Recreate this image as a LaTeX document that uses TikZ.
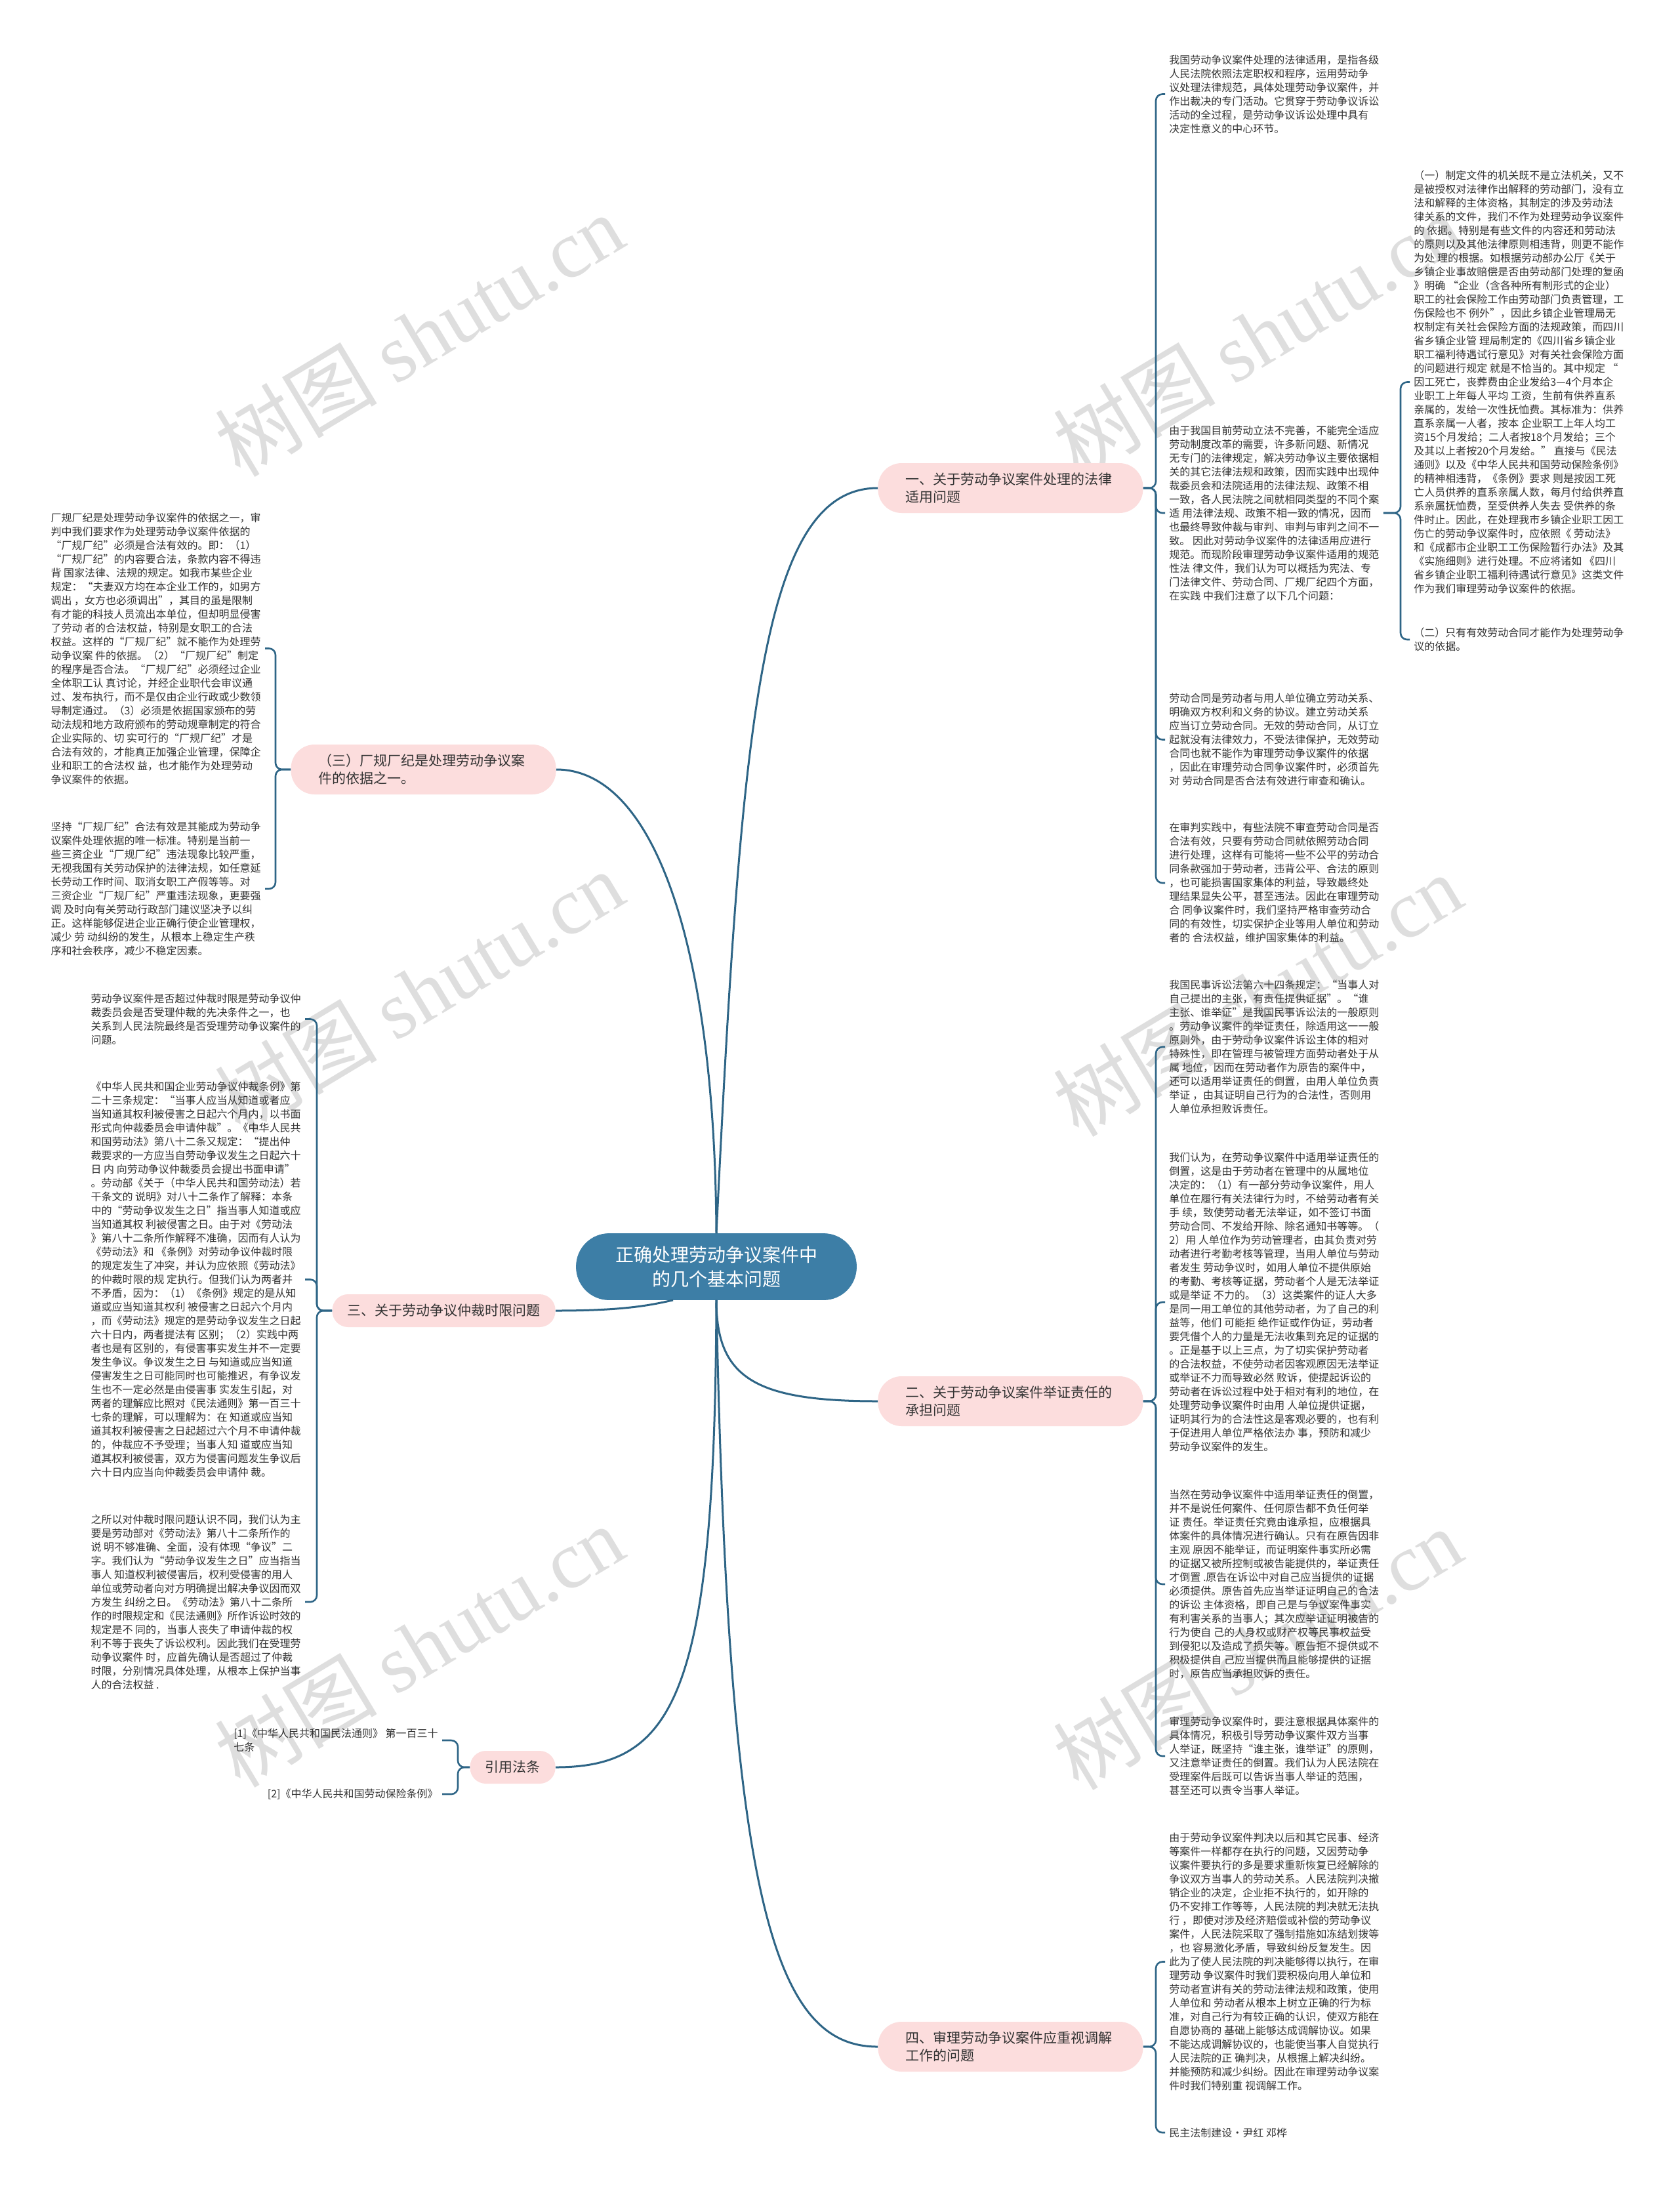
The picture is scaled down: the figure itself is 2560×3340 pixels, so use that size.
\documentclass[tikz,border=0pt]{standalone}
\usepackage{fontspec}
\setmainfont{Noto Sans CJK SC}
\newfontfamily\wmserif{Liberation Serif}
\usetikzlibrary{calc}
\definecolor{lc}{HTML}{2E6586}
\definecolor{rootc}{HTML}{3D7EA6}
\definecolor{pinkc}{HTML}{FCDDDD}
\definecolor{txt}{HTML}{333333}
\definecolor{wm}{HTML}{DEDEDE}
\tikzset{
  rootnode/.style={fill=rootc, draw=rootc, text=white, rounded corners=25pt, minimum width=213.5pt, minimum height=50.5pt, align=center, font=\fontsize{14}{18.5}\selectfont, inner sep=0pt},
  brtwo/.style={fill=pinkc, draw=none, text=txt, rounded corners=18pt, text width=160pt, inner xsep=21pt, inner ysep=0pt, minimum height=38pt, align=left, font=\fontsize{10.5}{13.5}\selectfont},
  brone/.style={fill=pinkc, draw=none, text=txt, rounded corners=12pt, inner xsep=11.5pt, inner ysep=0pt, minimum height=25pt, align=center, font=\fontsize{10.5}{13.5}\selectfont},
  leaf/.style={text=txt, align=left, inner xsep=3pt, inner ysep=0pt, font=\fontsize{8}{10.5}\selectfont},
  conn/.style={draw=lc, line width=1.5pt},
  brk/.style={draw=lc, line width=1.3pt, rounded corners=5pt},
  wmark/.style={text=wm, rotate=31, font=\fontsize{62}{62}\selectfont, inner sep=0pt}
}
\begin{document}
\begin{tikzpicture}[x=0.5pt,y=-0.5pt]
\useasboundingbox[fill=white] (0,0) rectangle (2560,3340);

% watermarks
\node[wmark] (w1) at (639,511) {树图 {\wmserif shutu.cn}};
\node[wmark] (w2) at (1917,511) {树图 {\wmserif shutu.cn}};
\node[wmark] (w3) at (639,1512) {树图 {\wmserif shutu.cn}};
\node[wmark] (w4) at (1917,1517) {树图 {\wmserif shutu.cn}};
\node[wmark] (w5) at (639,2509) {树图 {\wmserif shutu.cn}};
\node[wmark] (w6) at (1917,2513) {树图 {\wmserif shutu.cn}};

% root
\node[rootnode] (root) at (1092,1931) {正确处理劳动争议案件中\\的几个基本问题};

% main branches
\node[brtwo, anchor=west] (b1) at (1338,744) {一、关于劳动争议案件处理的法律\\适用问题};
\node[brtwo, anchor=west] (b2) at (1338,2136) {二、关于劳动争议案件举证责任的\\承担问题};
\node[brtwo, anchor=west] (b4) at (1338,3120) {四、审理劳动争议案件应重视调解\\工作的问题};
\node[brtwo, anchor=east] (b3) at (848,1173) {（三）厂规厂纪是处理劳动争议案\\件的依据之一。};
\node[brone, anchor=east] (bt) at (847,1998) {三、关于劳动争议仲裁时限问题};
\node[brone, anchor=east] (bref) at (847,2694) {引用法条};

% right leaves of branch 1
\node[leaf, anchor=west] (L1) at (1776,143.5) {我国劳动争议案件处理的法律适用，是指各级\\
人民法院依照法定职权和程序，运用劳动争\\
议处理法律规范，具体处理劳动争议案件，并\\
作出裁决的专门活动。它贯穿于劳动争议诉讼\\
活动的全过程，是劳动争议诉讼处理中具有\\
决定性意义的中心环节。};

\node[leaf, anchor=west] (L2) at (1776,782) {由于我国目前劳动立法不完善，不能完全适应\\
劳动制度改革的需要，许多新问题、新情况\\
无专门的法律规定，解决劳动争议主要依据相\\
关的其它法律法规和政策，因而实践中出现仲\\
裁委员会和法院适用的法律法规、政策不相\\
一致，各人民法院之间就相同类型的不同个案\\
适 用法律法规、政策不相一致的情况，因而\\
也最终导致仲裁与审判、审判与审判之间不一\\
致。 因此对劳动争议案件的法律适用应进行\\
规范。而现阶段审理劳动争议案件适用的规范\\
性法 律文件，我们认为可以概括为宪法、专\\
门法律文件、劳动合同、厂规厂纪四个方面，\\
在实践 中我们注意了以下几个问题：};

\node[leaf, anchor=west] (L3) at (1776,1127.5) {劳动合同是劳动者与用人单位确立劳动关系、\\
明确双方权利和义务的协议。建立劳动关系\\
应当订立劳动合同。无效的劳动合同，从订立\\
起就没有法律效力，不受法律保护，无效劳动\\
合同也就不能作为审理劳动争议案件的依据\\
，因此在审理劳动合同争议案件时，必须首先\\
对 劳动合同是否合法有效进行审查和确认。};

\node[leaf, anchor=west] (L4) at (1776,1346) {在审判实践中，有些法院不审查劳动合同是否\\
合法有效，只要有劳动合同就依照劳动合同\\
进行处理，这样有可能将一些不公平的劳动合\\
同条款强加于劳动者，违背公平、合法的原则\\
，也可能损害国家集体的利益，导致最终处\\
理结果显失公平，甚至违法。因此在审理劳动\\
合 同争议案件时，我们坚持严格审查劳动合\\
同的有效性，切实保护企业等用人单位和劳动\\
者的 合法权益，维护国家集体的利益。};

% children of L2
\node[leaf, anchor=west] (R1) at (2149,582.5) {（一）制定文件的机关既不是立法机关，又不\\
是被授权对法律作出解释的劳动部门，没有立\\
法和解释的主体资格，其制定的涉及劳动法\\
律关系的文件，我们不作为处理劳动争议案件\\
的 依据。特别是有些文件的内容还和劳动法\\
的原则以及其他法律原则相违背，则更不能作\\
为处 理的根据。如根据劳动部办公厅《关于\\
乡镇企业事故赔偿是否由劳动部门处理的复函\\
》明确 “企业（含各种所有制形式的企业）\\
职工的社会保险工作由劳动部门负责管理，工\\
伤保险也不 例外”，因此乡镇企业管理局无\\
权制定有关社会保险方面的法规政策，而四川\\
省乡镇企业管 理局制定的《四川省乡镇企业\\
职工福利待遇试行意见》对有关社会保险方面\\
的问题进行规定 就是不恰当的。其中规定 “\\
因工死亡，丧葬费由企业发给3—4个月本企\\
业职工上年每人平均 工资，生前有供养直系\\
亲属的，发给一次性抚恤费。其标准为：供养\\
直系亲属一人者，按本 企业职工上年人均工\\
资15个月发给；二人者按18个月发给；三个\\
及其以上者按20个月发给。” 直接与《民法\\
通则》以及《中华人民共和国劳动保险条例》\\
的精神相违背，《条例》要求 则是按因工死\\
亡人员供养的直系亲属人数，每月付给供养直\\
系亲属抚恤费，至受供养人失去 受供养的条\\
件时止。因此，在处理我市乡镇企业职工因工\\
伤亡的劳动争议案件时，应依照《 劳动法》\\
和《成都市企业职工工伤保险暂行办法》及其\\
《实施细则》进行处理。不应将诸如 《四川\\
省乡镇企业职工福利待遇试行意见》这类文件\\
作为我们审理劳动争议案件的依据。};

\node[leaf, anchor=west] (R2) at (2149,975) {（二）只有有效劳动合同才能作为处理劳动争\\
议的依据。};

% leaves of branch 2
\node[leaf, anchor=west] (L5) at (1776,1596) {我国民事诉讼法第六十四条规定：“当事人对\\
自己提出的主张，有责任提供证据”。“谁\\
主张、谁举证”是我国民事诉讼法的一般原则\\
。劳动争议案件的举证责任，除适用这一一般\\
原则外，由于劳动争议案件诉讼主体的相对\\
特殊性，即在管理与被管理方面劳动者处于从\\
属 地位，因而在劳动者作为原告的案件中，\\
还可以适用举证责任的倒置，由用人单位负责\\
举证 ，由其证明自己行为的合法性，否则用\\
人单位承担败诉责任。};

\node[leaf, anchor=west] (L6) at (1776,1985) {我们认为，在劳动争议案件中适用举证责任的\\
倒置，这是由于劳动者在管理中的从属地位\\
决定的：（1）有一部分劳动争议案件，用人\\
单位在履行有关法律行为时，不给劳动者有关\\
手 续，致使劳动者无法举证，如不签订书面\\
劳动合同、不发给开除、除名通知书等等。（\\
2）用 人单位作为劳动管理者，由其负责对劳\\
动者进行考勤考核等管理，当用人单位与劳动\\
者发生 劳动争议时，如用人单位不提供原始\\
的考勤、考核等证据，劳动者个人是无法举证\\
或是举证 不力的。（3）这类案件的证人大多\\
是同一用工单位的其他劳动者，为了自己的利\\
益等，他们 可能拒 绝作证或作伪证，劳动者\\
要凭借个人的力量是无法收集到充足的证据的\\
。正是基于以上三点，为了切实保护劳动者\\
的合法权益，不使劳动者因客观原因无法举证\\
或举证不力而导致必然 败诉，使提起诉讼的\\
劳动者在诉讼过程中处于相对有利的地位，在\\
处理劳动争议案件时由用 人单位提供证据，\\
证明其行为的合法性这是客观必要的，也有利\\
于促进用人单位严格依法办 事，预防和减少\\
劳动争议案件的发生。};

\node[leaf, anchor=west] (L7) at (1776,2415) {当然在劳动争议案件中适用举证责任的倒置，\\
并不是说任何案件、任何原告都不负任何举\\
证 责任。举证责任究竟由谁承担，应根据具\\
体案件的具体情况进行确认。只有在原告因非\\
主观 原因不能举证，而证明案件事实所必需\\
的证据又被所控制或被告能提供的，举证责任\\
才倒置 .原告在诉讼中对自己应当提供的证据\\
必须提供。原告首先应当举证证明自己的合法\\
的诉讼 主体资格，即自己是与争议案件事实\\
有利害关系的当事人；其次应举证证明被告的\\
行为使自 己的人身权或财产权等民事权益受\\
到侵犯以及造成了损失等。原告拒不提供或不\\
积极提供自 己应当提供而且能够提供的证据\\
时，原告应当承担败诉的责任。};

\node[leaf, anchor=west] (L8) at (1776,2677) {审理劳动争议案件时，要注意根据具体案件的\\
具体情况，积极引导劳动争议案件双方当事\\
人举证，既坚持“谁主张，谁举证”的原则，\\
又注意举证责任的倒置。我们认为人民法院在\\
受理案件后既可以告诉当事人举证的范围，\\
甚至还可以责令当事人举证。};

% leaves of branch 4
\node[leaf, anchor=west] (L9) at (1776,2990.5) {由于劳动争议案件判决以后和其它民事、经济\\
等案件一样都存在执行的问题，又因劳动争\\
议案件要执行的多是要求重新恢复已经解除的\\
争议双方当事人的劳动关系。人民法院判决撤\\
销企业的决定，企业拒不执行的，如开除的\\
仍不安排工作等等，人民法院的判决就无法执\\
行 ，即使对涉及经济赔偿或补偿的劳动争议\\
案件，人民法院采取了强制措施如冻结划拨等\\
，也 容易激化矛盾，导致纠纷反复发生。因\\
此为了使人民法院的判决能够得以执行，在审\\
理劳动 争议案件时我们要积极向用人单位和\\
劳动者宣讲有关的劳动法律法规和政策，使用\\
人单位和 劳动者从根本上树立正确的行为标\\
准，对自己行为有较正确的认识，使双方能在\\
自愿协商的 基础上能够达成调解协议。如果\\
不能达成调解协议的，也能使当事人自觉执行\\
人民法院的正 确判决，从根据上解决纠纷。\\
并能预防和减少纠纷。因此在审理劳动争议案\\
件时我们特别重 视调解工作。};

\node[leaf, anchor=west] (L10) at (1776,3251) {民主法制建设·尹红 邓桦};

% left leaves of (三)
\node[leaf, anchor=east] (L14) at (404,988.5) {厂规厂纪是处理劳动争议案件的依据之一，审\\
判中我们要求作为处理劳动争议案件依据的\\
“厂规厂纪”必须是合法有效的。即：（1）\\
“厂规厂纪”的内容要合法，条款内容不得违\\
背 国家法律、法规的规定。如我市某些企业\\
规定：“夫妻双方均在本企业工作的，如男方\\
调出 ，女方也必须调出”，其目的虽是限制\\
有才能的科技人员流出本单位，但却明显侵害\\
了劳动 者的合法权益，特别是女职工的合法\\
权益。这样的“厂规厂纪”就不能作为处理劳\\
动争议案 件的依据。（2）“厂规厂纪”制定\\
的程序是否合法。“厂规厂纪”必须经过企业\\
全体职工认 真讨论，并经企业职代会审议通\\
过、发布执行，而不是仅由企业行政或少数领\\
导制定通过。（3）必须是依据国家颁布的劳\\
动法规和地方政府颁布的劳动规章制定的符合\\
企业实际的、切 实可行的“厂规厂纪”才是\\
合法有效的，才能真正加强企业管理，保障企\\
业和职工的合法权 益，也才能作为处理劳动\\
争议案件的依据。};

\node[leaf, anchor=east] (L15) at (404,1355) {坚持“厂规厂纪”合法有效是其能成为劳动争\\
议案件处理依据的唯一标准。特别是当前一\\
些三资企业“厂规厂纪”违法现象比较严重，\\
无视我国有关劳动保护的法律法规，如任意延\\
长劳动工作时间、取消女职工产假等等。对\\
三资企业“厂规厂纪”严重违法现象，更要强\\
调 及时向有关劳动行政部门建议坚决予以纠\\
正。这样能够促进企业正确行使企业管理权，\\
减少 劳 动纠纷的发生，从根本上稳定生产秩\\
序和社会秩序，减少不稳定因素。};

% left leaves of 三
\node[leaf, anchor=east] (L11) at (465,1553.5) {劳动争议案件是否超过仲裁时限是劳动争议仲\\
裁委员会是否受理仲裁的先决条件之一，也\\
关系到人民法院最终是否受理劳动争议案件的\\
问题。};

\node[leaf, anchor=east] (L12) at (465,1950.5) {《中华人民共和国企业劳动争议仲裁条例》第\\
二十三条规定：“当事人应当从知道或者应\\
当知道其权利被侵害之日起六个月内，以书面\\
形式向仲裁委员会申请仲裁”。《中华人民共\\
和国劳动法》第八十二条又规定：“提出仲\\
裁要求的一方应当自劳动争议发生之日起六十\\
日 内 向劳动争议仲裁委员会提出书面申请”\\
。劳动部《关于（中华人民共和国劳动法）若\\
干条文的 说明》对八十二条作了解释：本条\\
中的“劳动争议发生之日”指当事人知道或应\\
当知道其权 利被侵害之日。由于对《劳动法\\
》第八十二条所作解释不准确，因而有人认为\\
《劳动法》和 《条例》对劳动争议仲裁时限\\
的规定发生了冲突，并认为应依照《劳动法》\\
的仲裁时限的规 定执行。但我们认为两者并\\
不矛盾，因为：（1）《条例》规定的是从知\\
道或应当知道其权利 被侵害之日起六个月内\\
，而《劳动法》规定的是劳动争议发生之日起\\
六十日内，两者提法有 区别；（2）实践中两\\
者也是有区别的，有侵害事实发生并不一定要\\
发生争议。争议发生之日 与知道或应当知道\\
侵害发生之日可能同时也可能推迟，有争议发\\
生也不一定必然是由侵害事 实发生引起，对\\
两者的理解应比照对《民法通则》第一百三十\\
七条的理解，可以理解为：在 知道或应当知\\
道其权利被侵害之日起超过六个月不申请仲裁\\
的，仲裁应不予受理；当事人知 道或应当知\\
道其权利被侵害，双方为侵害问题发生争议后\\
六十日内应当向仲裁委员会申请仲 裁。};

\node[leaf, anchor=east] (L13) at (465,2442) {之所以对仲裁时限问题认识不同，我们认为主\\
要是劳动部对《劳动法》第八十二条所作的\\
说 明不够准确、全面，没有体现“争议”二\\
字。我们认为“劳动争议发生之日”应当指当\\
事人 知道权利被侵害后，权利受侵害的用人\\
单位或劳动者向对方明确提出解决争议因而双\\
方发生 纠纷之日。《劳动法》第八十二条所\\
作的时限规定和《民法通则》所作诉讼时效的\\
规定是不 同的，当事人丧失了申请仲裁的权\\
利不等于丧失了诉讼权利。因此我们在受理劳\\
动争议案件 时，应首先确认是否超过了仲裁\\
时限，分别情况具体处理，从根本上保护当事\\
人的合法权益 .};

% references
\node[leaf, anchor=east] (F1) at (674,2653) {[1]《中华人民共和国民法通则》 第一百三十\\
七条};
\node[leaf, anchor=east] (F2) at (674,2735) {[2]《中华人民共和国劳动保险条例》};

% main connectors
\draw[conn] (root.north) .. controls (1130,1100) and (1160,744) .. (b1.west);
\draw[conn] (root.north) .. controls (1090,1450) and (1000,1173) .. (b3.east);
\draw[conn] ($(root.south)+(-66,0)$) .. controls (990,1990) and (950,1998) .. (bt.east);
\draw[conn] (root.south) .. controls (1090,2580) and (1030,2694) .. (bref.east);
\draw[conn] (root.south) .. controls (1092,2100) and (1150,2136) .. (b2.west);
\draw[conn] (root.south) .. controls (1110,2900) and (1180,3120) .. (b4.west);

% brackets right
\foreach \c in {L1,L2,L3,L4} \draw[brk] (b1.east) -| ([xshift=-7pt]\c.west) -- (\c.west);
\foreach \c in {L5,L6,L7,L8} \draw[brk] (b2.east) -| ([xshift=-7pt]\c.west) -- (\c.west);
\foreach \c in {L9,L10} \draw[brk] (b4.east) -| ([xshift=-7pt]\c.west) -- (\c.west);
\foreach \c in {R1,R2} \draw[brk] (L2.east) -| ([xshift=-7pt]\c.west) -- (\c.west);
% brackets left
\foreach \c in {L14,L15} \draw[brk] (b3.west) -| ([xshift=8pt]\c.east) -- (\c.east);
\foreach \c in {L11,L12,L13} \draw[brk] (bt.west) -| ([xshift=9pt]\c.east) -- (\c.east);
\foreach \c in {F1,F2} \draw[brk] (bref.west) -| ([xshift=12pt]\c.east) -- (\c.east);
\end{tikzpicture}
\end{document}
